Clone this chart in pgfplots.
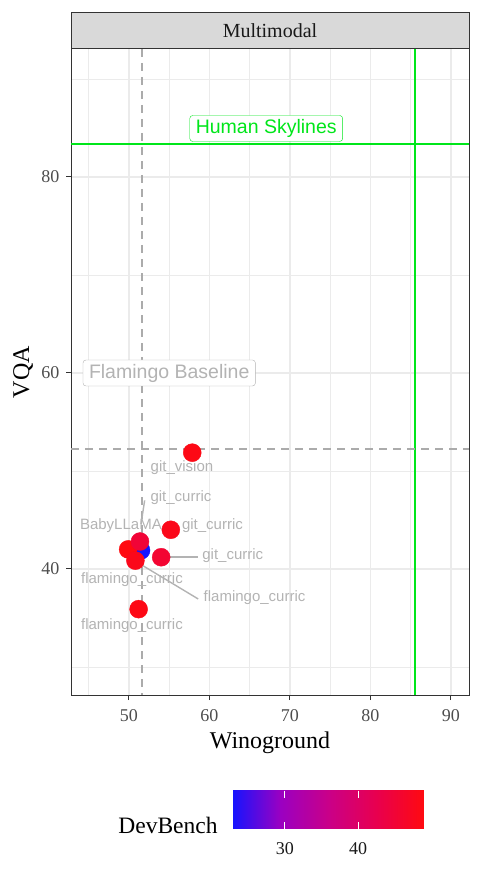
\documentclass[border=0pt]{standalone}
\usepackage{fontspec}
\setmainfont{Liberation Serif}
\newfontfamily\lsans{Liberation Sans}
\usepackage{pgfplots}
\pgfplotsset{compat=1.18}

\definecolor{gridc}{HTML}{EBEBEB}
\definecolor{dark}{HTML}{333333}
\definecolor{ticktxt}{HTML}{4D4D4D}
\definecolor{labgrey}{HTML}{B3B3B3}
\definecolor{refgrey}{HTML}{ABABAB}
\definecolor{hgreen}{HTML}{00E61A}
\definecolor{stripc}{HTML}{D9D9D9}

\pgfplotsset{colormap={devb}{rgb255=(20,20,255) rgb255=(154,0,194) rgb255=(201,0,137) rgb255=(232,0,79) rgb255=(255,10,16)}}

% Winoground, VQA, DevBench
\pgfplotstableread{
x y c
51.5 41.9 22.8
57.86 51.87 48.5
55.2 44.0 48.0
54.0 41.2 45.5
49.9 42.0 49.0
51.37 42.8 45.0
50.8 40.85 48.0
51.2 35.9 48.5
}\pts

\begin{document}
\begin{tikzpicture}
\useasboundingbox (0,0) rectangle (482pt,-883pt);
\begin{axis}[
  at={(71pt,-695pt)}, anchor=south west,
  width=398pt, height=646pt, scale only axis,
  xmin=42.8, xmax=92.24, ymin=27.14, ymax=93.06,
  xtick={50,60,70,80,90}, ytick={40,60,80},
  minor xtick={45,55,65,75,85}, minor ytick={30,50,70,90},
  grid=both,
  major grid style={gridc, line width=1.5pt},
  minor grid style={gridc, line width=0.8pt},
  tick align=outside, major tick length=5pt, minor tick length=0pt,
  xtick pos=left, ytick pos=left,
  tick style={dark, line width=1pt},
  axis line style={dark, line width=1pt},
  ticklabel style={font=\fontsize{18}{18}\selectfont, text=ticktxt},
  xticklabel style={yshift=-6pt},
  yticklabel style={xshift=-3pt},
  /pgf/number format/assume math mode=true,
  colormap name=devb, point meta min=22.8, point meta max=49,
  colorbar horizontal,
  colorbar/width=38pt,
  colorbar style={
    at={(parent axis.south west)}, anchor=north west,
    xshift=161pt, yshift=-87pt,
    width=192pt,
    xtick={30,40}, ytick=\empty,
    xtick pos=both, xticklabel pos=left,
    tick align=inside, major tick length=7pt,
    xtick style={white, line width=0.8pt},
    axis line style={draw=none},
    xticklabel style={font=\fontsize{18}{18}\selectfont, text=black!90, yshift=-10pt},
    /pgf/number format/assume math mode=true,
  },
]
\addplot[hgreen, line width=1.8pt] coordinates {(42.8,83.37) (92.24,83.37)};
\addplot[hgreen, line width=1.8pt] coordinates {(85.5,27.14) (85.5,93.06)};
\addplot[refgrey, line width=2pt, dash pattern=on 8pt off 6pt] coordinates {(51.6,93.06) (51.6,27.14)};
\addplot[refgrey, line width=2pt, dash pattern=on 8pt off 6pt] coordinates {(42.8,52.2) (92.24,52.2)};

\node[draw=hgreen, fill=white, rounded corners=3pt, text=hgreen, font=\lsans\fontsize{19.5}{19.5}\selectfont,
  inner xsep=6pt, minimum height=26pt] at (axis cs:67.05,84.95) {Human Skylines};
\node[draw=labgrey, fill=white, rounded corners=3pt, text=labgrey, font=\lsans\fontsize{19.5}{19.5}\selectfont,
  inner xsep=6pt, minimum height=26pt] at (axis cs:55.0,60.0) {Flamingo Baseline};

\addplot[labgrey, line width=1.4pt] coordinates {(51.95,47.0) (51.5,44.6)};
\addplot[labgrey, line width=1.4pt] coordinates {(55.09,41.22) (58.57,41.22)};
\addplot[labgrey, line width=1.4pt] coordinates {(51.58,40.41) (58.6,36.94)};

\begin{scope}[every node/.style={text=labgrey, font=\lsans\fontsize{15}{15}\selectfont, inner sep=0pt}]
\node at (axis cs:56.58,50.31) {git\_vision};
\node at (axis cs:56.46,47.24) {git\_curric};
\node at (axis cs:49.0,44.39) {BabyLLaMA};
\node at (axis cs:60.37,44.39) {git\_curric};
\node at (axis cs:62.9,41.33) {git\_curric};
\node at (axis cs:50.37,38.88) {flamingo\_curric};
\node at (axis cs:65.6,37.04) {flamingo\_curric};
\node at (axis cs:50.37,34.18) {flamingo\_curric};
\end{scope}

\addplot[scatter, only marks, mark=*, mark size=9pt, scatter src=explicit,
  scatter/use mapped color={draw=mapped color, fill=mapped color}]
  table[x=x, y=y, meta=c] {\pts};
\end{axis}

\draw[dark, fill=stripc, line width=1pt] (71pt,-13pt) rectangle (469pt,-49pt);
\node[text=black!90, font=\fontsize{20}{20}\selectfont] at (270pt,-31pt) {Multimodal};
\node[anchor=base, font=\fontsize{24}{24}\selectfont] at (270pt,-748pt) {Winoground};
\node[anchor=base, rotate=90, font=\fontsize{24}{24}\selectfont] at (29pt,-372pt) {VQA};
\node[anchor=base, font=\fontsize{23.5}{23.5}\selectfont] at (168pt,-833pt) {DevBench};
\end{tikzpicture}
\end{document}
